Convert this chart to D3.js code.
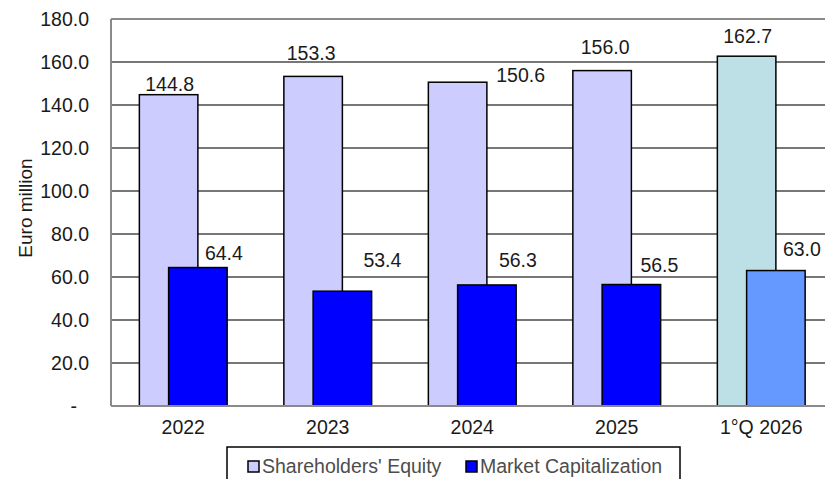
<!DOCTYPE html>
<html>
<head>
<meta charset="utf-8">
<script src="https://cdn.jsdelivr.net/npm/d3@7"></script>
<style>
  body { margin: 0; background: #fff; }
  svg { display: block; font-family: Arial, "Liberation Sans", sans-serif; }
</style>
</head>
<body>
<svg id="chart"></svg>
<script>
var width = 825;
var height = 479;

// data
var categories = ["2022", "2023", "2024", "2025", "1°Q 2026"];
var equity = [144.8, 153.3, 150.6, 156.0, 162.7];
var marketCap = [64.4, 53.4, 56.3, 56.5, 63.0];
var equityColors = ["#ccccff", "#ccccff", "#ccccff", "#ccccff", "#bde0e6"];
var capColors = ["#0000ff", "#0000ff", "#0000ff", "#0000ff", "#6699ff"];
var yTicks = [0, 20, 40, 60, 80, 100, 120, 140, 160, 180];
var seriesNames = ["Shareholders' Equity", "Market Capitalization"];

// hand-placed label offsets (dx from bar centre, dy from bar top)
var equityLabelOff = [[1, -4], [-2, -16], [63, 0], [3, -17], [1, -13]];
var capLabelOff = [[26, -8], [40, -24], [31, -18], [28, -13], [26, -15]];

var fontSize = 19.5;

var svg = d3.select("#chart").attr("width", width).attr("height", height);

var x = d3.scaleBand().domain(categories).range([111, 833.5]);
var y = d3.scaleLinear().domain([0, 180]).range([406, 19]);

var barW = x.bandwidth() * 0.405;
var shift = barW / 4; // the two series overlap by half a bar

function cx(d) { return x(d) + x.bandwidth() / 2; }

// gridlines
svg.append("g")
    .selectAll("line")
    .data(yTicks.filter(function(t) { return t > 0 && t < 180; }))
    .enter().append("line")
    .attr("x1", 111).attr("x2", width)
    .attr("y1", function(d) { return y(d); })
    .attr("y2", function(d) { return y(d); })
    .attr("stroke", "#4a4a4a")
    .attr("stroke-width", 1.3);

// frame: top and left
svg.append("line").attr("x1", 111).attr("x2", width).attr("y1", y(180)).attr("y2", y(180))
    .attr("stroke", "#8a8a8a").attr("stroke-width", 2);
svg.append("line").attr("x1", 111).attr("x2", 111).attr("y1", y(180)).attr("y2", y(0))
    .attr("stroke", "#8a8a8a").attr("stroke-width", 2);

// bars
var groups = svg.append("g").selectAll("g")
    .data(categories)
    .enter().append("g");

groups.append("rect")
    .attr("x", function(d) { return cx(d) - shift - barW / 2; })
    .attr("y", function(d, i) { return y(equity[i]); })
    .attr("width", barW)
    .attr("height", function(d, i) { return y(0) - y(equity[i]); })
    .attr("fill", function(d, i) { return equityColors[i]; })
    .attr("stroke", "#000").attr("stroke-width", 1.5);

groups.append("rect")
    .attr("x", function(d) { return cx(d) + shift - barW / 2; })
    .attr("y", function(d, i) { return y(marketCap[i]); })
    .attr("width", barW)
    .attr("height", function(d, i) { return y(0) - y(marketCap[i]); })
    .attr("fill", function(d, i) { return capColors[i]; })
    .attr("stroke", "#000").attr("stroke-width", 1.5);

// bottom axis line
svg.append("line").attr("x1", 111).attr("x2", width).attr("y1", y(0)).attr("y2", y(0))
    .attr("stroke", "#8a8a8a").attr("stroke-width", 2);

// value labels
var fmt = d3.format(".1f");
groups.append("text")
    .attr("x", function(d, i) { return cx(d) - shift + equityLabelOff[i][0]; })
    .attr("y", function(d, i) { return y(equity[i]) + equityLabelOff[i][1]; })
    .attr("text-anchor", "middle")
    .attr("font-size", fontSize).attr("fill", "#1a1a1a")
    .text(function(d, i) { return fmt(equity[i]); });

groups.append("text")
    .attr("x", function(d, i) { return cx(d) + shift + capLabelOff[i][0]; })
    .attr("y", function(d, i) { return y(marketCap[i]) + capLabelOff[i][1]; })
    .attr("text-anchor", "middle")
    .attr("font-size", fontSize).attr("fill", "#1a1a1a")
    .text(function(d, i) { return fmt(marketCap[i]); });

// y axis labels
var yAxis = d3.axisLeft(y)
    .tickValues(yTicks)
    .tickSize(0)
    .tickPadding(22)
    .tickFormat(function(d) { return d === 0 ? "-" : fmt(d); });
var ya = svg.append("g").attr("transform", "translate(111,0)").call(yAxis);
ya.select(".domain").remove();
ya.selectAll("text").attr("font-size", fontSize).attr("fill", "#1a1a1a")
    .attr("font-family", "Arial, 'Liberation Sans', sans-serif");
ya.selectAll("text").filter(function(d) { return d === 0; }).attr("dx", -12);

// x axis labels
var xAxis = d3.axisBottom(x).tickSize(0).tickPadding(14);
var xa = svg.append("g").attr("transform", "translate(0," + y(0) + ")").call(xAxis);
xa.select(".domain").remove();
xa.selectAll("text").attr("font-size", fontSize).attr("fill", "#1a1a1a")
    .attr("font-family", "Arial, 'Liberation Sans', sans-serif");

// y axis title
svg.append("text")
    .attr("transform", "translate(32,208) rotate(-90)")
    .attr("text-anchor", "middle")
    .attr("font-size", 19).attr("fill", "#1a1a1a")
    .text("Euro million");

// legend
var legend = svg.append("g");
legend.append("rect")
    .attr("x", 227).attr("y", 447).attr("width", 453).attr("height", 50)
    .attr("fill", "#fff").attr("stroke", "#000").attr("stroke-width", 1.5);
var legendX = [248, 466];
seriesNames.forEach(function(name, i) {
    legend.append("rect")
        .attr("x", legendX[i]).attr("y", 461).attr("width", 11).attr("height", 11)
        .attr("fill", i === 0 ? equityColors[0] : capColors[0])
        .attr("stroke", "#000").attr("stroke-width", 1.5);
    legend.append("text")
        .attr("x", legendX[i] + 14).attr("y", 472.5)
        .attr("font-size", fontSize).attr("fill", "#4d4d4d")
        .text(name);
});
</script>
</body>
</html>
